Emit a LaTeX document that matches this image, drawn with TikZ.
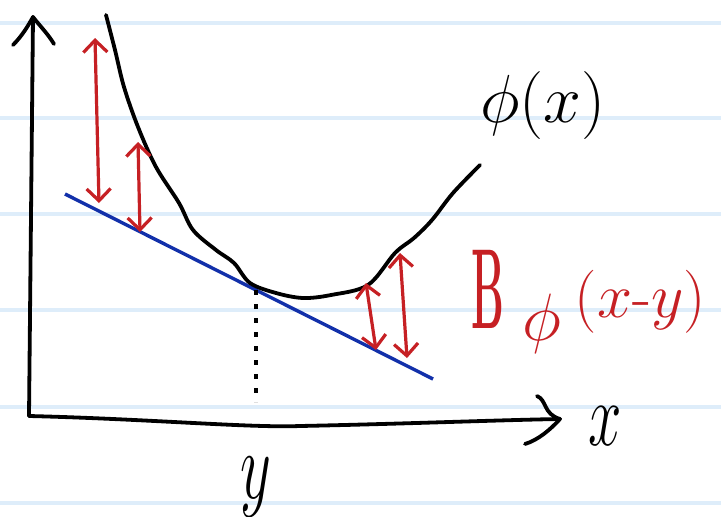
\documentclass[tikz,border=0pt]{standalone}
\usepackage{fix-cm}
\usetikzlibrary{arrows.meta}
\definecolor{inkred}{RGB}{198,32,36}
\definecolor{inkblue}{RGB}{18,48,170}
\definecolor{ruled}{RGB}{222,237,250}
\begin{document}
\begin{tikzpicture}[x=1pt,y=-1pt,
  ruleline/.style={ruled,line width=4pt},
  ink/.style={black,line width=3.8pt,line cap=round,line join=round},
  tangent/.style={inkblue,line width=3.4pt},
  gap/.style={inkred,line width=3.2pt,line cap=round,line join=round,{Straight Barb[length=12pt,width=24pt]}-{Straight Barb[length=12pt,width=24pt]}},
  dotline/.style={black,line width=3.4pt,dash pattern=on 5pt off 9pt},
  blacklabel/.style={inner sep=0pt,text=black},
  redlabel/.style={inner sep=0pt,text=inkred}]
\useasboundingbox (0,0) rectangle (721,517);
\fill[white] (0,0) rectangle (721,517);
\foreach \yy in {23,118,214,310,407,503} \draw[ruleline] (0,\yy) -- (721,\yy);
% axes
\coordinate (O) at (29,416);
\coordinate (ytip) at (33,17);
\coordinate (xtip) at (560,419);
\draw[ink] (O) -- (ytip);
\draw[ink] (13,45) .. controls (22,36) and (28,26) .. (ytip) .. controls (40,26) and (48,34) .. (54,44);
\draw[ink] (O) .. controls (150,419) and (250,428) .. (300,426) .. controls (400,424) and (500,420) .. (xtip);
\draw[ink] (537,396) .. controls (547,400) and (543,414) .. (xtip) .. controls (550,430) and (538,440) .. (525,444);
% tangent line
\coordinate (t1) at (65,194);
\coordinate (t2) at (433,379);
\coordinate (T) at (256,290);
\coordinate (Tfoot) at (256,402);
\draw[tangent] (t1) -- (t2);
\draw[dotline] (T) -- (Tfoot);
% convex function
\draw[ink] plot[smooth,tension=0.55] coordinates {(106,15) (115,50) (124,87) (138,127) (156,167) (179,203) (193,230) (216,250) (234,263) (250,283) (276,293) (303,298) (331,295) (368,285) (395,253) (414,238) (432,220) (453,193) (480,165)};
% gaps
\draw[gap] (95,38) -- (99,203);
\draw[gap] (138,142) -- (140,232);
\draw[gap] (366,283) -- (376,350);
\draw[gap] (400,253) -- (407,358);
% labels
\node[blacklabel,font=\fontsize{68}{68}\selectfont] (philabel) at (543,105) {$\phi(x)$};
\node[blacklabel,font=\fontsize{60}{60}\selectfont] (xlabel) at (605,426) {\scalebox{1}[1.5]{$x$}};
\node[blacklabel,font=\fontsize{60}{60}\selectfont] (ylabel) at (256,487) {\scalebox{1}[1.6]{$y$}};
\node[redlabel,anchor=base west] (bregman) at (471,328) {\fontsize{114}{114}\selectfont\scalebox{0.36}[1]{\bfseries B}\hspace{18pt}\raisebox{-12pt}{\fontsize{67}{67}\selectfont$\phi$}\hspace{14pt}\raisebox{11pt}{\fontsize{63}{63}\selectfont$(x\mbox{-}y)$}};
\end{tikzpicture}
\end{document}
